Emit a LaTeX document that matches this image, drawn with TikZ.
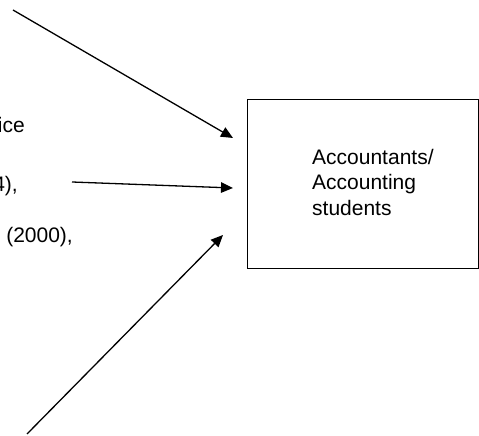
\documentclass[tikz,border=0pt]{standalone}
\usepackage{xcolor}
\usepackage{tikz}
\usepackage{fontspec}
\setmainfont{Liberation Sans}
\usetikzlibrary{arrows.meta}

\begin{document}
\begin{tikzpicture}[x=1pt, y=1pt, font=\fontsize{21}{25.5}\selectfont,
        arrow/.style={-{Triangle[length=12pt, width=10.5pt]}, line width=1.3pt},
        frag/.style={anchor=base east, inner sep=0pt}]
            \useasboundingbox (0, 0) rectangle (479, 436);

            \node [draw, line width=0.9pt, minimum width=231, minimum height=169, inner sep=0pt] (box) at (362.5, 252.5) {};
            \node [anchor=west, align=left, inner sep=0pt] (label) at (312, 254) {Accountants/\\Accounting\\students};

            \node [frag] (ice) at (25, 303) {ice};
            \node [frag] (yr1) at (18, 244) {4),};
            \node [frag] (yr2) at (73, 193) {(2000),};

            \coordinate (s1) at (13, 426);
            \coordinate (e1) at (233, 298);
            \coordinate (s2) at (72, 254);
            \coordinate (e2) at (233, 248);
            \coordinate (s3) at (27, 2);
            \coordinate (e3) at (223, 201);

            \draw [arrow] (s1) -- (e1);
            \draw [arrow] (s2) -- (e2);
            \draw [arrow] (s3) -- (e3);
        \end{tikzpicture}
\end{document}
